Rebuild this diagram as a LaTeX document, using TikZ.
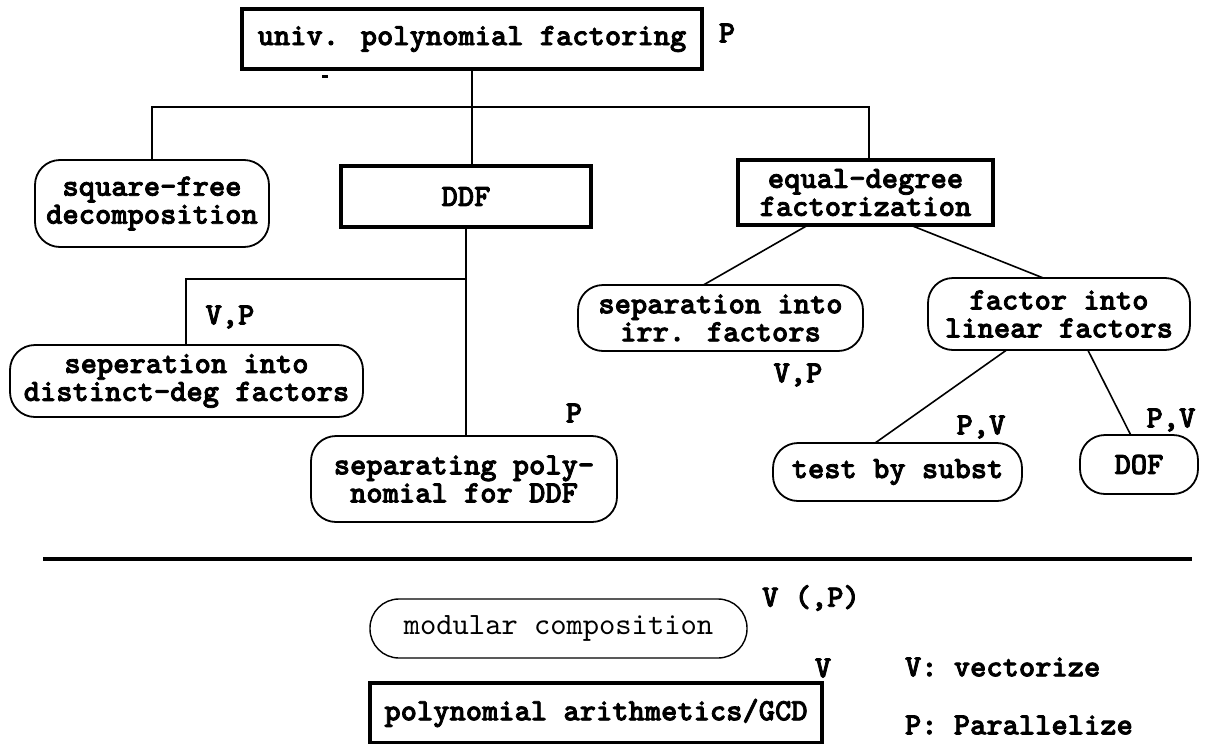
\documentclass[tikz,border=0pt]{standalone}
\usepackage{fontspec}
\usetikzlibrary{calc}
\newfontfamily\courbold{lmmonolt10-bold}[Extension=.otf, FakeBold=2.5]
\newfontfamily\courreg{lmmono10-regular}[Extension=.otf]
\newcommand\btfont{\courbold\fontsize{31}{28}\selectfont}
\newcommand\mtfont{\courreg\fontsize{31}{28}\selectfont}
\begin{document}
\begin{tikzpicture}[x=1pt,y=-1pt,
  every node/.style={inner sep=0pt, outer sep=0pt, font=\btfont, align=center},
  sqbox/.style={draw, line width=3.2pt},
  rbox/.style={draw, line width=1.8pt, rounded corners=25pt},
  modbox/.style={draw, line width=1.4pt, rounded corners=29pt, font=\mtfont},
  polybox/.style={draw, line width=4pt},
  conn/.style={line width=1.6pt},
  lbl/.style={font=\btfont}]
\useasboundingbox (0,0) rectangle (1207,744);
% nodes
\node[sqbox, minimum width=460pt, minimum height=60pt] (top) at (472,39) {univ. polynomial factoring};
\node[rbox, minimum width=234pt, minimum height=87pt] (sqfree) at (152,203.5) {square-free\\decomposition};
\node[sqbox, minimum width=250pt, minimum height=61pt] (ddf) at (466,196.5) {DDF};
\node[sqbox, minimum width=255pt, minimum height=65pt] (edf) at (865.5,192.5) {equal-degree\\factorization};
\node[rbox, minimum width=353pt, minimum height=72pt] (sepdd) at (186.5,381) {seperation into\\distinct-deg factors};
\node[rbox, minimum width=306pt, minimum height=86pt] (sepp) at (464,479) {separating poly-\\nomial for DDF};
\node[rbox, minimum width=285pt, minimum height=66pt] (irr) at (720.5,318) {separation into\\irr. factors};
\node[rbox, minimum width=262pt, minimum height=72pt] (lin) at (1059,314) {factor into\\linear factors};
\node[rbox, minimum width=249pt, minimum height=58pt] (test) at (897.5,472) {test by subst};
\node[rbox, minimum width=118pt, minimum height=59pt] (dof) at (1139,464.5) {DOF};
\node[modbox, minimum width=377pt, minimum height=59pt] (mod) at (558.5,628.5) {modular composition};
\node[polybox, minimum width=452pt, minimum height=60pt] (poly) at (596,713) {polynomial arithmetics/GCD};
% labels
\node[lbl] (pTop) at (727,33) {P};
\node[lbl] (vpDD) at (230,317) {V,P};
\node[lbl] (pSep) at (574,413) {P};
\node[lbl] (vpIrr) at (798,375) {V,P};
\node[lbl] (pvTest) at (981,427) {P,V};
\node[lbl] (pvDof) at (1171,420) {P,V};
\node[lbl] (vpMod) at (811,598) {V (,P)};
\node[lbl] (vPoly) at (823,668) {V};
\node[lbl, anchor=west] (legV) at (905,667) {V: vectorize};
\node[lbl, anchor=west] (legP) at (905,725) {P: Parallelize};
% small mark
\fill (322,75) rectangle (328,78);
% connectors
\coordinate (busL) at (152,107);
\coordinate (busR) at (869,107);
\coordinate (br) at (186,279);
\draw[conn] (top.south) -- (top.south |- ddf.north);
\draw[conn] (sqfree.north) -- (sqfree.north |- busL) -- (busR) -- (busR |- edf.north);
\draw[conn] (ddf.south) -- (ddf.south |- sepp.north);
\draw[conn] (ddf.south |- br) -- (br) -- (br |- sepdd.north);
\draw[conn] ($(edf.south west)!0.275!(edf.south east)$) -- ($(irr.north west)!0.44!(irr.north east)$);
\draw[conn] ($(edf.south west)!0.675!(edf.south east)$) -- ($(lin.north west)!0.44!(lin.north east)$);
\draw[conn] ($(lin.south west)!0.30!(lin.south east)$) -- ($(test.north west)!0.41!(test.north east)$);
\draw[conn] ($(lin.south west)!0.61!(lin.south east)$) -- ($(dof.north west)!0.43!(dof.north east)$);
% separator
\draw[line width=4.5pt] (43,559) -- (1192,559);
\end{tikzpicture}
\end{document}
